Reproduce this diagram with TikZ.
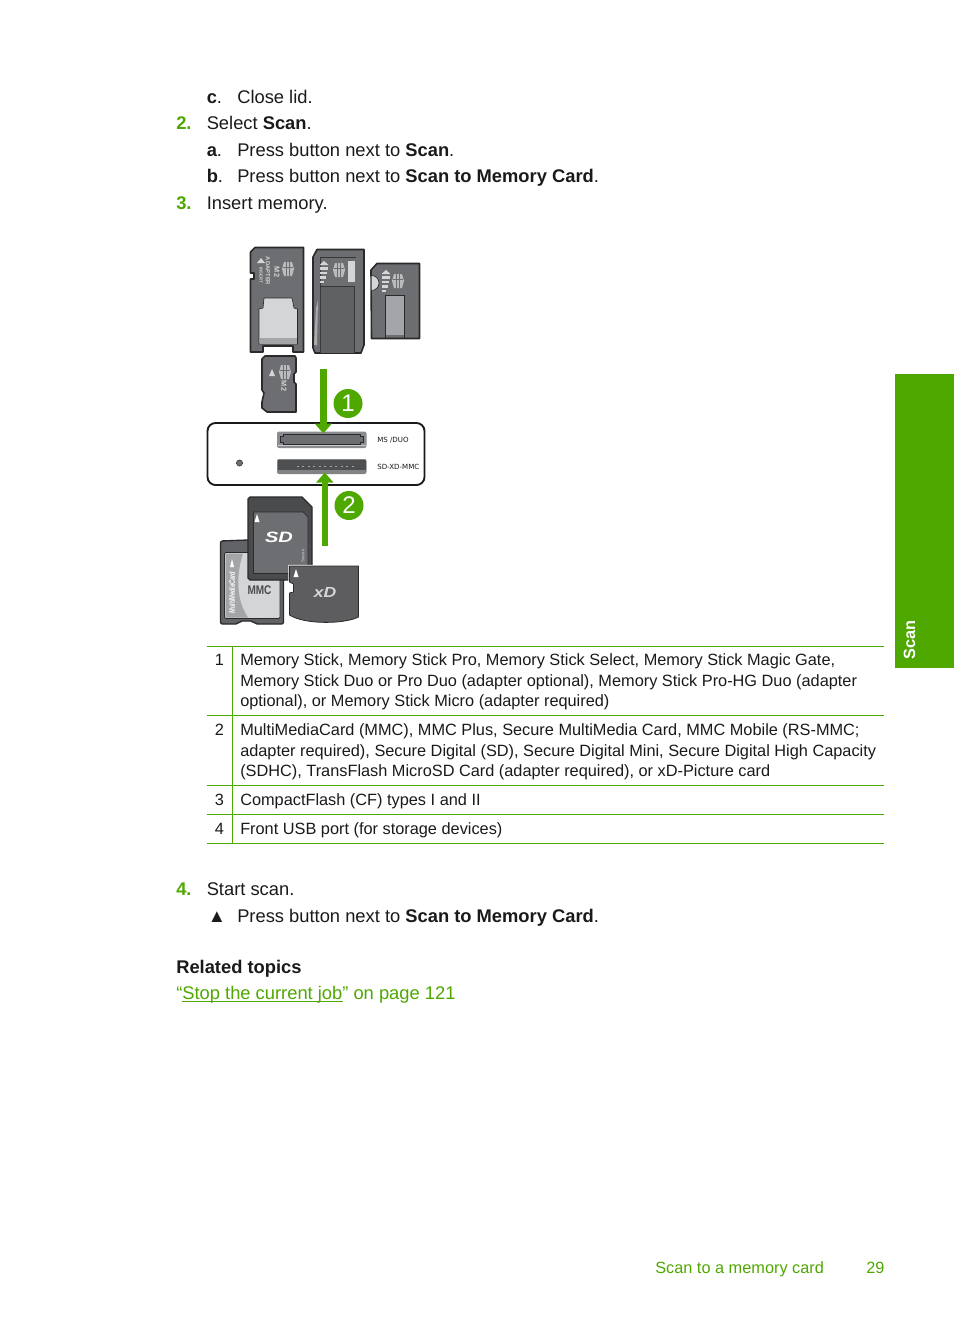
\documentclass[tikz,border=0pt]{standalone}
\usepackage{fontspec}
\setmainfont{Liberation Sans}
\newfontfamily\dejavu{DejaVu Sans}
\usetikzlibrary{arrows.meta}
\definecolor{hpgreen}{HTML}{4FA800}
\definecolor{ink}{HTML}{1A1A1A}
\definecolor{cardgray}{HTML}{6D6E71}
\definecolor{carddark}{HTML}{4A4B4D}
\definecolor{cardedge}{HTML}{2A2A2B}
\definecolor{cardlight}{HTML}{D4D5D6}
\definecolor{cardmid}{HTML}{A3A5A8}
\tikzset{
  x=0.75pt,y=-0.75pt,
  body/.style={anchor=base west,inner sep=0pt,text=ink,font=\fontsize{13.75}{16}\selectfont},
  greennum/.style={anchor=base west,inner sep=0pt,text=hpgreen,font=\fontsize{13.75}{16}\selectfont\bfseries},
  cell/.style={anchor=base west,inner sep=0pt,text=ink,font=\fontsize{12.24}{15}\selectfont},
  cellnum/.style={anchor=base,inner sep=0pt,text=ink,font=\fontsize{12.24}{15}\selectfont},
  rule/.style={draw=hpgreen,line width=0.8pt},
  card/.style={draw=cardedge,line width=1.2pt,fill=cardgray,line join=round},
  dcard/.style={draw=cardedge,line width=1pt,fill=carddark,line join=round},
  callout/.style={circle,fill=hpgreen,minimum size=21.75pt,inner sep=0pt,text=white,font=\fontsize{18}{18}\selectfont},
  greenarrow/.style={draw=hpgreen,line width=4.8pt,-{Triangle[width=12.5pt,length=7.5pt]}},
  tiny/.style={inner sep=0pt,text=cardlight,font=\fontsize{4.4}{5}\selectfont\bfseries},
  slotlabel/.style={anchor=base west,inner sep=0pt,text=ink,font=\dejavu\fontsize{5.3}{6}\selectfont},
}
\newcommand{\mslogo}[2]{%
  \fill[cardlight!75!cardgray] (#1-4,#2-7) -- (#1+4,#2-7) -- (#1+6,#2) -- (#1+4,#2+7) -- (#1-4,#2+7) -- (#1-6,#2) -- cycle;
  \draw[cardgray,line width=0.75pt] (#1-1.8,#2-7) -- (#1-1.8,#2+7) (#1+1.8,#2-7) -- (#1+1.8,#2+7) (#1-5,#2-2) -- (#1+5,#2-2);}
\newcommand{\msbars}[2]{%
  \fill[cardlight] (#1,#2) -- (#1+4.5,#2+4) -- (#1-4.5,#2+4) -- cycle;
  \fill[cardlight] (#1-4,#2+5.5) rectangle (#1+4,#2+8.5);
  \fill[cardlight] (#1-4,#2+10.5) rectangle (#1+3,#2+13);
  \fill[cardlight] (#1-4,#2+15) rectangle (#1+1.5,#2+17.5);
  \fill[cardlight] (#1-4,#2+19.5) rectangle (#1,#2+22);}
\newcommand{\xdpath}{(289.5,566) -- (358.5,566) -- (358.5,617) .. controls (345,624) and (305,625) .. (289.5,615) -- (289.5,593) -- (293.5,592) -- (293.5,584) -- (289.5,582) -- cycle}
\begin{document}
\begin{tikzpicture}
\useasboundingbox (0,0) rectangle (954,1321);
\fill[white] (0,0) rectangle (954,1321);

% upper text
\node[body] (tc) at (206.5,103) {\textbf{c}.};
\node[body] (tct) at (237,103) {Close lid.};
\node[greennum] (n2) at (176,129.5) {2.};
\node[body] (t2) at (206.5,129.5) {Select \textbf{Scan}.};
\node[body] (ta) at (206.5,156) {\textbf{a}.};
\node[body] (tat) at (237,156) {Press button next to \textbf{Scan}.};
\node[body] (tb) at (206.5,182.5) {\textbf{b}.};
\node[body] (tbt) at (237,182.5) {Press button next to \textbf{Scan to Memory Card}.};
\node[greennum] (n3) at (176,209) {3.};
\node[body] (t3) at (206.5,209) {Insert memory.};

% M2 adapter
\path[card] (250.5,252) -- (255,247.5) -- (303.5,247.5) -- (303.5,352) -- (293,352) -- (293,346) -- (263,346) -- (263,352) -- (250.5,352) -- (250.5,279) -- (254,279) -- (254,273) -- (250.5,273) -- cycle;
\path[fill=cardlight,draw=cardedge,line width=0.5pt] (264,298) -- (292,298) -- (294,308) -- (297.5,309) -- (297.5,344) -- (259,344) -- (259,309) -- (263,308) -- cycle;
\fill[cardmid] (259.5,338) rectangle (297,344);
\mslogo{288}{269}
\fill[cardlight] (261,258) -- (265,263) -- (257,263) -- cycle;
\node[tiny,rotate=-90] (ad1) at (268,271) {ADAPTER};
\node[tiny,rotate=-90,font=\fontsize{5.5}{6}\selectfont\bfseries] (ad2) at (277,272) {M2};
\node[tiny,rotate=-90,font=\fontsize{3.2}{4}\selectfont\bfseries] (ad3) at (261,275) {INSERT};

% Duo adapter
\path[card] (313,257) -- (317,249.5) -- (364,249.5) -- (364,345) -- (361,353) -- (315,353) -- (313,348) -- cycle;
\fill[cardgray!88!black] (320,286) rectangle (354,352.5);
\draw[cardedge!80!cardgray,line width=0.5pt] (320,352.5) -- (320,257) -- (356,257) (320,286) -- (354,286) -- (354,352.5);
\fill[cardlight] (348,261) rectangle (354.5,282);
\msbars{324}{261}
\mslogo{339}{270}
\fill[cardlight!60!cardgray] (316,308) -- (318,300) -- (317,345) -- (314,345) -- cycle;

% Duo
\path[card] (371,270) -- (377,263.5) -- (419.5,263.5) -- (419.5,338.5) -- (371.5,338.5) -- cycle;
\fill[cardlight] (371.5,275.5) arc[start angle=-90,end angle=90,radius=7.5] -- cycle;
\draw[cardedge,line width=0.5pt] (371.5,275.5) arc[start angle=-90,end angle=90,radius=7.5];
\fill[cardmid] (385,295) rectangle (404,335);
\draw[cardedge,line width=0.4pt] (385,338) -- (385,295) -- (404,295) -- (404,338);
\msbars{386}{270}
\mslogo{398}{281}

% M2
\path[card] (262,359) -- (265,356) -- (295,356) -- (296,358) -- (296,372) -- (294,374) -- (294,382) -- (296,384) -- (296,412) -- (267,412) -- (262,408) -- (262,402) -- (264,393) -- (262,390) -- cycle;
\fill[cardlight] (272,369) -- (275,376) -- (269,376) -- cycle;
\mslogo{285}{372}
\node[tiny,rotate=-90,font=\fontsize{5.5}{6}\selectfont\bfseries] (m2) at (284,386) {M2};

% reader
\draw[ink,line width=1.4pt,rounded corners=6pt,fill=white] (207.5,423) rectangle (424.5,485);
\node[draw=cardedge,line width=0.4pt,fill=cardgray,circle,minimum size=4.6pt,inner sep=0pt] (led) at (239.5,463) {};
\fill[cardmid!85!black,rounded corners=1.5pt] (277,431.5) rectangle (366.5,448);
\fill[cardlight!80!cardmid] (278,444.5) rectangle (365.5,446);
\path[fill=cardgray,draw=cardedge,line width=0.6pt] (283,434.5) -- (360,434.5) -- (360,436.5) -- (363,436.5) -- (363,442) -- (360,442) -- (360,444) -- (283,444) -- (283,442) -- (280,442) -- (280,436.5) -- (283,436.5) -- cycle;
\fill[cardgray!80!cardlight,rounded corners=1.5pt] (277,459) rectangle (366.5,474);
\fill[carddark!90!cardgray] (278,460) rectangle (365.5,470);
\foreach \i in {0,...,10}{\fill[cardmid] (297.5+\i*5.5-1,465.5) rectangle (297.5+\i*5.5+1,467);}
\node[slotlabel] (ms) at (377,442.5) {MS /DUO};
\node[slotlabel] (sd) at (377,469.5) {SD-XD-MMC};

% arrows and callouts
\coordinate (a1s) at (323.3,369);
\coordinate (a1e) at (323.3,433.5);
\coordinate (a2s) at (324.8,546);
\coordinate (a2e) at (324.8,472.5);
\draw[greenarrow] (a1s) -- (a1e);
\draw[greenarrow] (a2s) -- (a2e);
\node[callout] (c1) at (348,403.5) {1};
\node[callout] (c2) at (349,505.5) {2};

% MMC
\path[dcard,fill=cardgray!90!black,rounded corners=1.5pt] (220.5,541) -- (248,540) -- (283.5,540) -- (283.5,624) -- (255,624) -- (253,621) -- (240,621) -- (238,624) -- (220.5,624) -- cycle;
\draw[cardedge,line width=0.6pt,fill=cardlight,rounded corners=1pt] (224.5,552.5) rectangle (280,618.5);
\fill[cardmid] (225.5,553.5) -- (243,553.5) .. controls (236,575) and (236,600) .. (248,617.5) -- (225.5,617.5) -- cycle;
\fill[white] (232,559) -- (234,567) -- (230,567) -- cycle;
\node[inner sep=0pt,rotate=90,xscale=0.7,text=white,font=\fontsize{6}{6}\selectfont\bfseries\itshape] (mmcname) at (232,592.5) {MultiMediaCard};
\node[inner sep=0pt,xscale=0.8,text=carddark,font=\fontsize{9.4}{9}\selectfont\bfseries] (mmc) at (259.5,590) {MMC};

% SD
\path[dcard] (248,499) -- (250,497) -- (302,497) -- (312,507) -- (312,575) -- (290,580) -- (250,580) -- (248,578) -- cycle;
\path[fill=cardgray,draw=cardedge,line width=0.5pt] (253.5,512) -- (303,512) -- (308,517) -- (308,573.5) -- (253.5,573.5) -- cycle;
\fill[white] (257,514) -- (259.5,522) -- (254.5,522) -- cycle;
\node[inner sep=0pt,yscale=0.75,text=white,font=\fontsize{15}{15}\selectfont\bfseries\itshape] (sdl) at (279,537) {SD};
\node[inner sep=0pt,rotate=90,text=cardlight,font=\fontsize{3.2}{4}\selectfont] (sdt) at (303,556) {Secure};

% xD
\path[draw=white,line width=1.6pt,fill=white] \xdpath;
\path[draw=cardedge,line width=0.6pt,fill=cardgray!85!black,line join=round] \xdpath;
\fill[white] (296,569) -- (298.5,577) -- (293.5,577) -- cycle;
\node[inner sep=0pt,xscale=1.2,text=cardlight,font=\fontsize{11}{11}\selectfont\bfseries\itshape] (xd) at (325,592) {xD};

% table
\coordinate (tl1) at (207,646.5); \coordinate (tr1) at (884,646.5);
\coordinate (tl2) at (207,715.5); \coordinate (tr2) at (884,715.5);
\coordinate (tl3) at (207,785.5); \coordinate (tr3) at (884,785.5);
\coordinate (tl4) at (207,814.5); \coordinate (tr4) at (884,814.5);
\coordinate (tl5) at (207,843.5); \coordinate (tr5) at (884,843.5);
\coordinate (vt) at (232.5,646.5); \coordinate (vb) at (232.5,843.5);
\draw[rule] (tl1) -- (tr1);
\draw[rule] (tl2) -- (tr2);
\draw[rule] (tl3) -- (tr3);
\draw[rule] (tl4) -- (tr4);
\draw[rule] (tl5) -- (tr5);
\draw[rule] (vt) -- (vb);
\node[cellnum] (r1) at (219.5,665) {1};
\node[cell] (r1a) at (240,665) {Memory Stick, Memory Stick Pro, Memory Stick Select, Memory Stick Magic Gate,};
\node[cell] (r1b) at (240,686) {Memory Stick Duo or Pro Duo (adapter optional), Memory Stick Pro-HG Duo (adapter};
\node[cell] (r1c) at (240,706) {optional), or Memory Stick Micro (adapter required)};
\node[cellnum] (r2) at (219.5,735) {2};
\node[cell] (r2a) at (240,735) {MultiMediaCard (MMC), MMC Plus, Secure MultiMedia Card, MMC Mobile (RS-MMC;};
\node[cell] (r2b) at (240,756) {adapter required), Secure Digital (SD), Secure Digital Mini, Secure Digital High Capacity};
\node[cell] (r2c) at (240,776) {(SDHC), TransFlash MicroSD Card (adapter required), or xD-Picture card};
\node[cellnum] (r3) at (219.5,805) {3};
\node[cell] (r3a) at (240,805) {CompactFlash (CF) types I and II};
\node[cellnum] (r4) at (219.5,834) {4};
\node[cell] (r4a) at (240,834) {Front USB port (for storage devices)};

% lower text
\node[greennum] (n4) at (176,895) {4.};
\node[body] (t4) at (206.5,895) {Start scan.};
\node[body] (tri) at (207.5,922) {▲};
\node[body] (t4a) at (237,922) {Press button next to \textbf{Scan to Memory Card}.};
\node[body] (rel) at (176,973) {\textbf{Related topics}};
\node[body,text=hpgreen] (lnk) at (176,999) {“Stop the current job” on page 121};
\coordinate (ulS) at (182,1001.7);
\coordinate (ulE) at (343,1001.7);
\draw[hpgreen,line width=0.75pt] (ulS) -- (ulE);

% footer
\node[cell,text=hpgreen] (f1) at (655,1273) {Scan to a memory card};
\node[cell,text=hpgreen] (f2) at (866,1273) {29};

% side tab
\fill[hpgreen] (895,374) rectangle (954,668);
\node[anchor=base west,inner sep=0pt,rotate=90,text=white,font=\fontsize{12.2}{14}\selectfont\bfseries] (tab) at (915,660) {Scan};
\end{tikzpicture}
\end{document}
